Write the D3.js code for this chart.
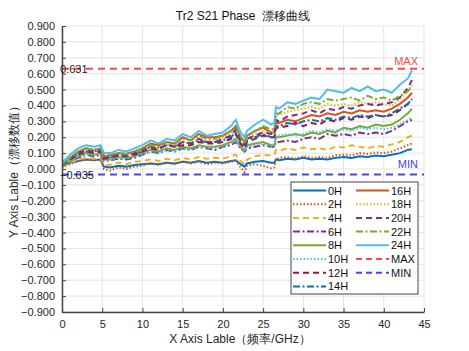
<!DOCTYPE html>
<html>
<head>
<meta charset="utf-8">
<script src="https://cdn.jsdelivr.net/npm/d3@7"></script>
<style>
  body { margin: 0; background: #fff; }
  svg { font-family: "Liberation Sans", Arial, sans-serif; }
</style>
</head>
<body>
<div id="chart"></div>
<script>
// Data
const freq = [0,1,2,3,4,4.8,5.2,6,7,8,9,10,11,12,13,14,15,16,17,18,19,20,21,21.6,22.2,22.7,23,24,25,26,26.4,26.6,27,28,29,30,31,32,33,34,35,36,37,38,39,40,41,42,43,43.5];

const h0  = [0.02,0.04,0.05,0.06,0.055,0.06,0.015,0.01,0.02,0.015, 0.025,0.03,0.035,0.03,0.04,0.035,0.045,0.04,0.05,0.04, 0.045,0.04,0.05,0.055,0.03,0.015,0.035,0.045,0.05,0.04, 0.04,0.06,0.055,0.065,0.06,0.07,0.06,0.065,0.06,0.07, 0.075,0.07,0.08,0.075,0.085,0.08,0.09,0.10,0.12,0.125];
const h2  = [0.01,0.03,0.05,0.06,0.055,0.06,0.0,-0.01,0.01,0.0, 0.015,0.02,0.035,0.025,0.04,0.03,0.05,0.035,0.045,0.03, 0.04,0.035,0.045,0.05,0.01,-0.02,0.02,0.03,0.02,0.005, 0.01,0.06,0.07,0.075,0.065,0.08,0.07,0.075,0.07,0.085, 0.09,0.085,0.10,0.095,0.105,0.10,0.11,0.13,0.15,0.16];
const h4  = [0.01,0.04,0.06,0.07,0.065,0.07,0.03,0.025,0.04,0.03, 0.045,0.05,0.06,0.05,0.065,0.055,0.07,0.06,0.075,0.065, 0.07,0.065,0.08,0.09,0.05,0.03,0.06,0.08,0.09,0.085, 0.09,0.12,0.115,0.13,0.12,0.135,0.125,0.13,0.12,0.14, 0.135,0.15,0.14,0.13,0.145,0.14,0.155,0.17,0.20,0.21];
const h6  = [0.02,0.05,0.07,0.09,0.08,0.09,0.05,0.055,0.065,0.06, 0.07,0.09,0.11,0.10,0.12,0.11,0.13,0.12,0.14,0.13, 0.12,0.14,0.15,0.17,0.13,0.11,0.13,0.14,0.15,0.14, 0.14,0.17,0.17,0.18,0.17,0.19,0.20,0.19,0.22,0.21, 0.22,0.21,0.23,0.22,0.23,0.22,0.24,0.27,0.30,0.31];
const h8  = [0.02,0.05,0.08,0.10,0.09,0.10,0.06,0.06,0.075,0.07, 0.08,0.10,0.12,0.11,0.13,0.12,0.14,0.13,0.15,0.14, 0.14,0.15,0.17,0.19,0.14,0.12,0.15,0.16,0.17,0.15, 0.15,0.20,0.20,0.21,0.22,0.21,0.23,0.22,0.24,0.23, 0.26,0.25,0.27,0.26,0.28,0.27,0.28,0.31,0.35,0.38];
const h10 = [0.02,0.05,0.08,0.09,0.09,0.10,0.055,0.06,0.07,0.065, 0.08,0.09,0.11,0.10,0.12,0.11,0.13,0.12,0.14,0.13, 0.13,0.14,0.16,0.18,0.13,0.11,0.14,0.15,0.16,0.14, 0.14,0.21,0.21,0.22,0.21,0.22,0.24,0.23,0.25,0.24, 0.25,0.24,0.26,0.25,0.26,0.25,0.26,0.28,0.31,0.33];
const h12 = [0.02,0.06,0.09,0.11,0.10,0.11,0.065,0.07,0.085,0.08, 0.09,0.11,0.13,0.12,0.16,0.14,0.15,0.15,0.17,0.16, 0.16,0.17,0.19,0.22,0.16,0.13,0.17,0.19,0.21,0.20, 0.20,0.26,0.26,0.27,0.29,0.27,0.29,0.28,0.31,0.30, 0.32,0.31,0.33,0.32,0.34,0.33,0.34,0.37,0.41,0.44];
const h14 = [0.02,0.06,0.10,0.11,0.11,0.12,0.07,0.075,0.09,0.08, 0.10,0.11,0.14,0.13,0.15,0.14,0.17,0.16,0.18,0.17, 0.17,0.18,0.20,0.23,0.17,0.14,0.18,0.20,0.22,0.20, 0.20,0.27,0.27,0.29,0.28,0.30,0.31,0.30,0.32,0.31, 0.33,0.32,0.34,0.33,0.34,0.33,0.35,0.38,0.41,0.44];
const h16 = [0.03,0.07,0.11,0.13,0.12,0.13,0.08,0.085,0.10,0.095, 0.11,0.13,0.16,0.15,0.17,0.16,0.20,0.18,0.22,0.20, 0.20,0.21,0.24,0.27,0.20,0.17,0.21,0.24,0.26,0.23, 0.23,0.29,0.29,0.31,0.30,0.32,0.34,0.33,0.35,0.34, 0.36,0.35,0.37,0.36,0.37,0.36,0.38,0.41,0.45,0.48];
const h18 = [0.03,0.07,0.10,0.12,0.12,0.12,0.075,0.08,0.095,0.09, 0.10,0.12,0.14,0.13,0.16,0.15,0.17,0.16,0.19,0.18, 0.18,0.20,0.22,0.25,0.19,0.16,0.20,0.22,0.24,0.23, 0.23,0.34,0.34,0.36,0.37,0.38,0.39,0.38,0.41,0.40, 0.41,0.40,0.42,0.41,0.42,0.41,0.40,0.44,0.49,0.53];
const h20 = [0.03,0.06,0.10,0.12,0.11,0.12,0.07,0.075,0.09,0.085, 0.10,0.12,0.14,0.13,0.15,0.14,0.17,0.16,0.19,0.17, 0.17,0.19,0.21,0.25,0.18,0.15,0.19,0.21,0.23,0.22, 0.22,0.31,0.30,0.33,0.34,0.35,0.37,0.35,0.38,0.37, 0.39,0.38,0.40,0.41,0.40,0.41,0.42,0.45,0.51,0.56];
const h22 = [0.03,0.07,0.11,0.13,0.12,0.13,0.085,0.09,0.10,0.095, 0.11,0.13,0.15,0.14,0.17,0.16,0.19,0.18,0.21,0.19, 0.19,0.21,0.24,0.27,0.20,0.17,0.21,0.24,0.27,0.25, 0.25,0.35,0.35,0.39,0.38,0.41,0.42,0.41,0.44,0.43, 0.44,0.45,0.43,0.46,0.44,0.45,0.43,0.46,0.49,0.52];
const h24 = [0.04,0.09,0.13,0.15,0.14,0.15,0.10,0.10,0.12,0.11, 0.13,0.15,0.18,0.16,0.19,0.18,0.22,0.20,0.24,0.21, 0.22,0.23,0.27,0.31,0.23,0.20,0.24,0.28,0.31,0.28, 0.29,0.39,0.38,0.42,0.41,0.43,0.45,0.44,0.50,0.49, 0.48,0.51,0.49,0.52,0.49,0.50,0.48,0.53,0.57,0.62];

const seriesNames = ["0H","2H","4H","6H","8H","10H","12H","14H","16H","18H","20H","22H","24H"];
const seriesValues = [h0,h2,h4,h6,h8,h10,h12,h14,h16,h18,h20,h22,h24];
const maxValue = 0.631;
const minValue = -0.035;
const yTicks = d3.range(-9, 10).map(d => d / 10);
const xTicks = [0,5,10,15,20,25,30,35,40,45];

// Styles
const dashes = { solid: null, dot: "1.5,2", dash: "6,4", dashdot: "7,2.5,2,2.5" };
const styles = [
  { color: "#0072BD", dash: "solid" },
  { color: "#D95319", dash: "dot" },
  { color: "#EDB120", dash: "dash" },
  { color: "#7E2F8E", dash: "dashdot" },
  { color: "#77AC30", dash: "solid" },
  { color: "#4DBEEE", dash: "dot" },
  { color: "#A2142F", dash: "dash" },
  { color: "#0072BD", dash: "dashdot" },
  { color: "#D95319", dash: "solid" },
  { color: "#EDB120", dash: "dot" },
  { color: "#7E2F8E", dash: "dash" },
  { color: "#77AC30", dash: "dashdot" },
  { color: "#4DBEEE", dash: "solid" }
];
const maxColor = "#FF4545";
const minColor = "#4545FF";

const width = 469, height = 351;
const margin = { top: 26, right: 45, bottom: 39, left: 62 };
const plotW = width - margin.left - margin.right;
const plotH = height - margin.top - margin.bottom;

const svg = d3.select("#chart").append("svg")
  .attr("width", width)
  .attr("height", height);

const g = svg.append("g")
  .attr("transform", `translate(${margin.left},${margin.top})`);

const x = d3.scaleLinear().domain([0, 45]).range([0, plotW]);
const y = d3.scaleLinear().domain([-0.9, 0.9]).range([plotH, 0]);

// Grid
g.append("g").selectAll("line").data(xTicks).enter().append("line")
  .attr("x1", d => x(d)).attr("x2", d => x(d))
  .attr("y1", 0).attr("y2", plotH)
  .attr("stroke", "#e3e3e3").attr("stroke-width", 1);
g.append("g").selectAll("line").data(yTicks).enter().append("line")
  .attr("x1", 0).attr("x2", plotW)
  .attr("y1", d => y(d)).attr("y2", d => y(d))
  .attr("stroke", "#e3e3e3").attr("stroke-width", 1);

svg.append("defs").append("clipPath").attr("id", "clip")
  .append("rect").attr("width", plotW).attr("height", plotH);

const plot = g.append("g").attr("clip-path", "url(#clip)");

const line = d3.line()
  .x((d, i) => x(freq[i]))
  .y(d => y(d));

seriesValues.forEach((vals, i) => {
  plot.append("path")
    .datum(vals)
    .attr("d", line)
    .attr("fill", "none")
    .attr("stroke", styles[i].color)
    .attr("stroke-width", 2)
    .attr("stroke-dasharray", dashes[styles[i].dash]);
});

// MAX / MIN reference lines
[[maxValue, maxColor], [minValue, minColor]].forEach(([v, c]) => {
  plot.append("line")
    .attr("x1", 0).attr("x2", plotW)
    .attr("y1", y(v)).attr("y2", y(v))
    .attr("stroke", c).attr("stroke-width", 2)
    .attr("stroke-dasharray", "7,5");
});

// Axes
const yAxis = g.append("g")
  .call(d3.axisLeft(y).tickValues(yTicks).tickFormat(d3.format(".3f")).tickSizeInner(-4).tickSizeOuter(0).tickPadding(7));
const xAxis = g.append("g")
  .attr("transform", `translate(0,${plotH})`)
  .call(d3.axisBottom(x).tickValues(xTicks).tickSizeInner(-4).tickSizeOuter(0).tickPadding(8));
[yAxis, xAxis].forEach(ax => {
  ax.select(".domain").attr("stroke", "#444").attr("stroke-width", 1.5);
  ax.selectAll(".tick line").attr("stroke", "#444");
  ax.selectAll("text").attr("fill", "#262626").style("font-size", "11px").style("font-family", "'Liberation Sans', Arial, sans-serif");
});

// Value labels for MAX / MIN
g.append("text").attr("x", -2).attr("y", y(maxValue) + 4)
  .style("font-size", "11px").attr("fill", "#222").text(d3.format(".3f")(maxValue));
g.append("text").attr("x", -2).attr("y", y(minValue) + 4)
  .style("font-size", "11px").attr("fill", "#222").text(d3.format(".3f")(minValue));
g.append("text").attr("x", plotW - 6).attr("y", y(maxValue) - 4)
  .attr("text-anchor", "end").style("font-size", "11px").attr("fill", maxColor).text("MAX");
g.append("text").attr("x", plotW - 6).attr("y", y(minValue) - 7)
  .attr("text-anchor", "end").style("font-size", "11px").attr("fill", minColor).text("MIN");

// Titles
svg.append("text")
  .attr("x", margin.left + plotW / 2).attr("y", 20)
  .attr("text-anchor", "middle").style("font-size", "12px").attr("fill", "#111")
  .text("Tr2 S21 Phase\u00a0\u00a0漂移曲线");
svg.append("text")
  .attr("x", margin.left + plotW / 2 - 3).attr("y", 343)
  .attr("text-anchor", "middle").style("font-size", "12px").attr("fill", "#262626")
  .text("X Axis Lable（频率/GHz）");
svg.append("text")
  .attr("transform", `translate(18,${y(0) + margin.top})rotate(-90)`)
  .attr("text-anchor", "middle").style("font-size", "12px").attr("fill", "#262626")
  .text("Y Axis Lable（漂移数值）");

// Legend
const legendItems = seriesNames.map((n, i) => ({ name: n, color: styles[i].color, dash: styles[i].dash }))
  .concat([{ name: "MAX", color: maxColor, dash: "dash" }, { name: "MIN", color: minColor, dash: "dash" }]);

const legend = svg.append("g").attr("transform", "translate(291,182)");
legend.append("rect")
  .attr("width", 127).attr("height", 112)
  .attr("fill", "#fff").attr("stroke", "#444").attr("stroke-width", 1);

legendItems.forEach((d, i) => {
  const col = i < 8 ? 0 : 1;
  const row = i < 8 ? i : i - 8;
  const lg = legend.append("g").attr("transform", `translate(${2 + col * 63},${8.5 + row * 13.7})`);
  lg.append("line")
    .attr("x1", 0).attr("x2", 33).attr("y1", 0).attr("y2", 0)
    .attr("stroke", d.color).attr("stroke-width", 2)
    .attr("stroke-dasharray", dashes[d.dash]);
  lg.append("text").attr("x", 35).attr("y", 4)
    .style("font-size", "11px").attr("fill", "#111").text(d.name);
});
</script>
</body>
</html>
